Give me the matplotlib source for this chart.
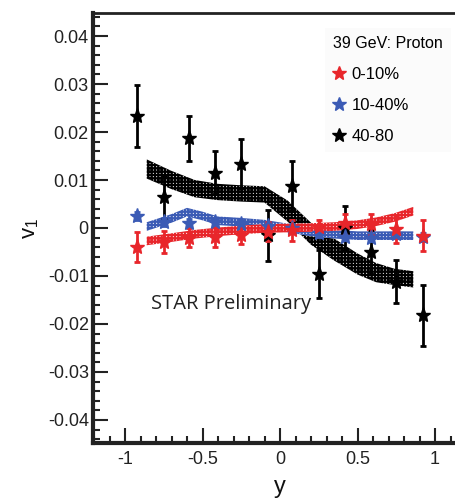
import numpy as np
import matplotlib
matplotlib.use("Agg")
from matplotlib import pyplot as plt
from matplotlib.lines import Line2D
from matplotlib.ticker import MultipleLocator

plt.rcParams['font.family'] = ['Liberation Sans Narrow', 'Liberation Sans', 'DejaVu Sans']
plt.rcParams['hatch.linewidth'] = 1.6

# measured points (same rapidity bins for all centralities)
y_bins = [-0.92, -0.75, -0.585, -0.417, -0.25, -0.08, 0.08, 0.25, 0.42, 0.585, 0.75, 0.92]

v1_central = [-0.0040, -0.0030, -0.0020, -0.0018, -0.0015, -0.0008,
              -0.0005, 0.0003, 0.0010, 0.0008, -0.0002, -0.0016]
err_central = [0.0031, 0.0023, 0.0020, 0.0021, 0.0019, 0.0020,
               0.0022, 0.0013, 0.0020, 0.0022, 0.0029, 0.0032]

v1_mid = [0.0025, 0.0013, 0.0010, 0.0012, 0.0008, 0.0005,
          0.0000, -0.0010, -0.0018, -0.0020, -0.0012, -0.0019]
err_mid = [0.0008, 0.0008, 0.0008, 0.0008, 0.0008, 0.0008,
           0.0008, 0.0008, 0.0008, 0.0008, 0.0008, 0.0009]

v1_periph = [0.0233, 0.0064, 0.0187, 0.0115, 0.0134, -0.0015,
             0.0088, -0.0095, 0.0000, -0.0050, -0.0112, -0.0182]
err_periph = [0.0064, 0.0045, 0.0047, 0.0045, 0.0051, 0.0053,
              0.0052, 0.0050, 0.0045, 0.0045, 0.0045, 0.0064]

# systematic bands
band_x = [-0.86, -0.7, -0.55, -0.4, -0.25, -0.1, 0.05, 0.2, 0.35, 0.5, 0.62, 0.74, 0.86]
band_black = [0.0123, 0.0100, 0.0082, 0.0075, 0.0072, 0.0070, 0.0035,
              -0.0012, -0.0045, -0.0075, -0.0093, -0.0102, -0.0107]
band_black_w = [0.0020, 0.0019, 0.0018, 0.0017, 0.0017, 0.0017, 0.0022,
                0.0023, 0.0023, 0.0022, 0.0020, 0.0017, 0.0017]
band_red = [-0.0027, -0.0020, -0.0013, -0.0008, -0.0004, -0.0001, 0.0000,
            0.0001, 0.0003, 0.0007, 0.0013, 0.0022, 0.0035]
band_red_w = 0.0009

band_blue_x = [-0.86, -0.7, -0.6, -0.5, -0.4, -0.25, -0.1, 0.05, 0.2, 0.35, 0.5, 0.7, 0.86]
band_blue = [0.0003, 0.0020, 0.0033, 0.0025, 0.0015, 0.0012, 0.0008,
             0.0000, -0.0008, -0.0013, -0.0016, -0.0016, -0.0016]
band_blue_w = 0.0009

RED = '#e8262b'
BLUE = '#3b5bb5'
BLACK = '#000000'

fig = plt.figure(figsize=(4.55, 4.98), dpi=100)
ax = fig.add_axes([93 / 455, 55 / 498, 362 / 455, 430 / 498])


def band(x, c, w, color):
    c = np.asarray(c)
    w = np.asarray(w)
    ax.fill_between(x, c - w, c + w, facecolor='white', edgecolor=color,
                    hatch='+++++', linewidth=0)


band(band_x, band_black, band_black_w, BLACK)
band(band_blue_x, band_blue, band_blue_w, BLUE)
band(band_x, band_red, band_red_w, RED)

for vals, errs, col in [(v1_periph, err_periph, BLACK),
                        (v1_mid, err_mid, BLUE),
                        (v1_central, err_central, RED)]:
    ax.errorbar(y_bins, vals, yerr=errs, fmt='*', color=col, ms=11,
                elinewidth=2, capsize=2.5, capthick=2, mec=col)

ax.set_xlim(-1.2065, 1.129)
ax.set_ylim(-0.0448, 0.0448)

ax.xaxis.set_minor_locator(MultipleLocator(0.1))
ax.yaxis.set_minor_locator(MultipleLocator(0.002))
ax.set_xticks([-1, -0.5, 0, 0.5, 1])
ax.set_xticklabels(['-1', '-0.5', '0', '0.5', '1'])
ax.set_yticks([-0.04, -0.03, -0.02, -0.01, 0, 0.01, 0.02, 0.03, 0.04])
ax.set_yticklabels(['-0.04', '-0.03', '-0.02', '-0.01', '0', '0.01', '0.02', '0.03', '0.04'])

ax.tick_params(which='both', direction='in', labelsize=13, colors='#222222',
               top=False, right=False)
ax.tick_params(which='major', length=11, width=1.5)
ax.tick_params(which='minor', length=5, width=1.5)
ax.tick_params(axis='y', pad=3)
ax.tick_params(axis='x', pad=6)

ax.spines['right'].set_visible(False)
ax.spines['left'].set_linewidth(3)
ax.spines['bottom'].set_linewidth(3)
ax.spines['top'].set_linewidth(2)
for s in ax.spines.values():
    s.set_color('#222222')

fig.text(0.066, 0.542, r'$\mathregular{v_1}$', rotation=90, fontsize=16,
         ha='center', va='center', color='#111111')
fig.text(0.615, 0.022, 'y', fontsize=17, ha='center', va='center', color='#111111')

ax.text(-0.83, -0.0158, 'STAR Preliminary', fontsize=14.5, family=['Open Sans', 'DejaVu Sans'],
        ha='left', va='center', color='#222222')

handles = [Line2D([], [], ls='none', marker='*', ms=10, color=c)
           for c in (RED, BLUE, BLACK)]
leg = ax.legend(handles, ['0-10%', '10-40%', '40-80'], title='39 GeV: Proton',
                loc='upper left', bbox_to_anchor=(0.618, 0.985), fontsize=12,
                title_fontsize=11.5, handlelength=0.7, handletextpad=0.4,
                labelspacing=0.95, borderpad=0.5, frameon=True, fancybox=False,
                alignment='left')
leg.get_frame().set_facecolor('#fafafa')
leg.get_frame().set_edgecolor('none')

fig.savefig('out.png', dpi=100)
